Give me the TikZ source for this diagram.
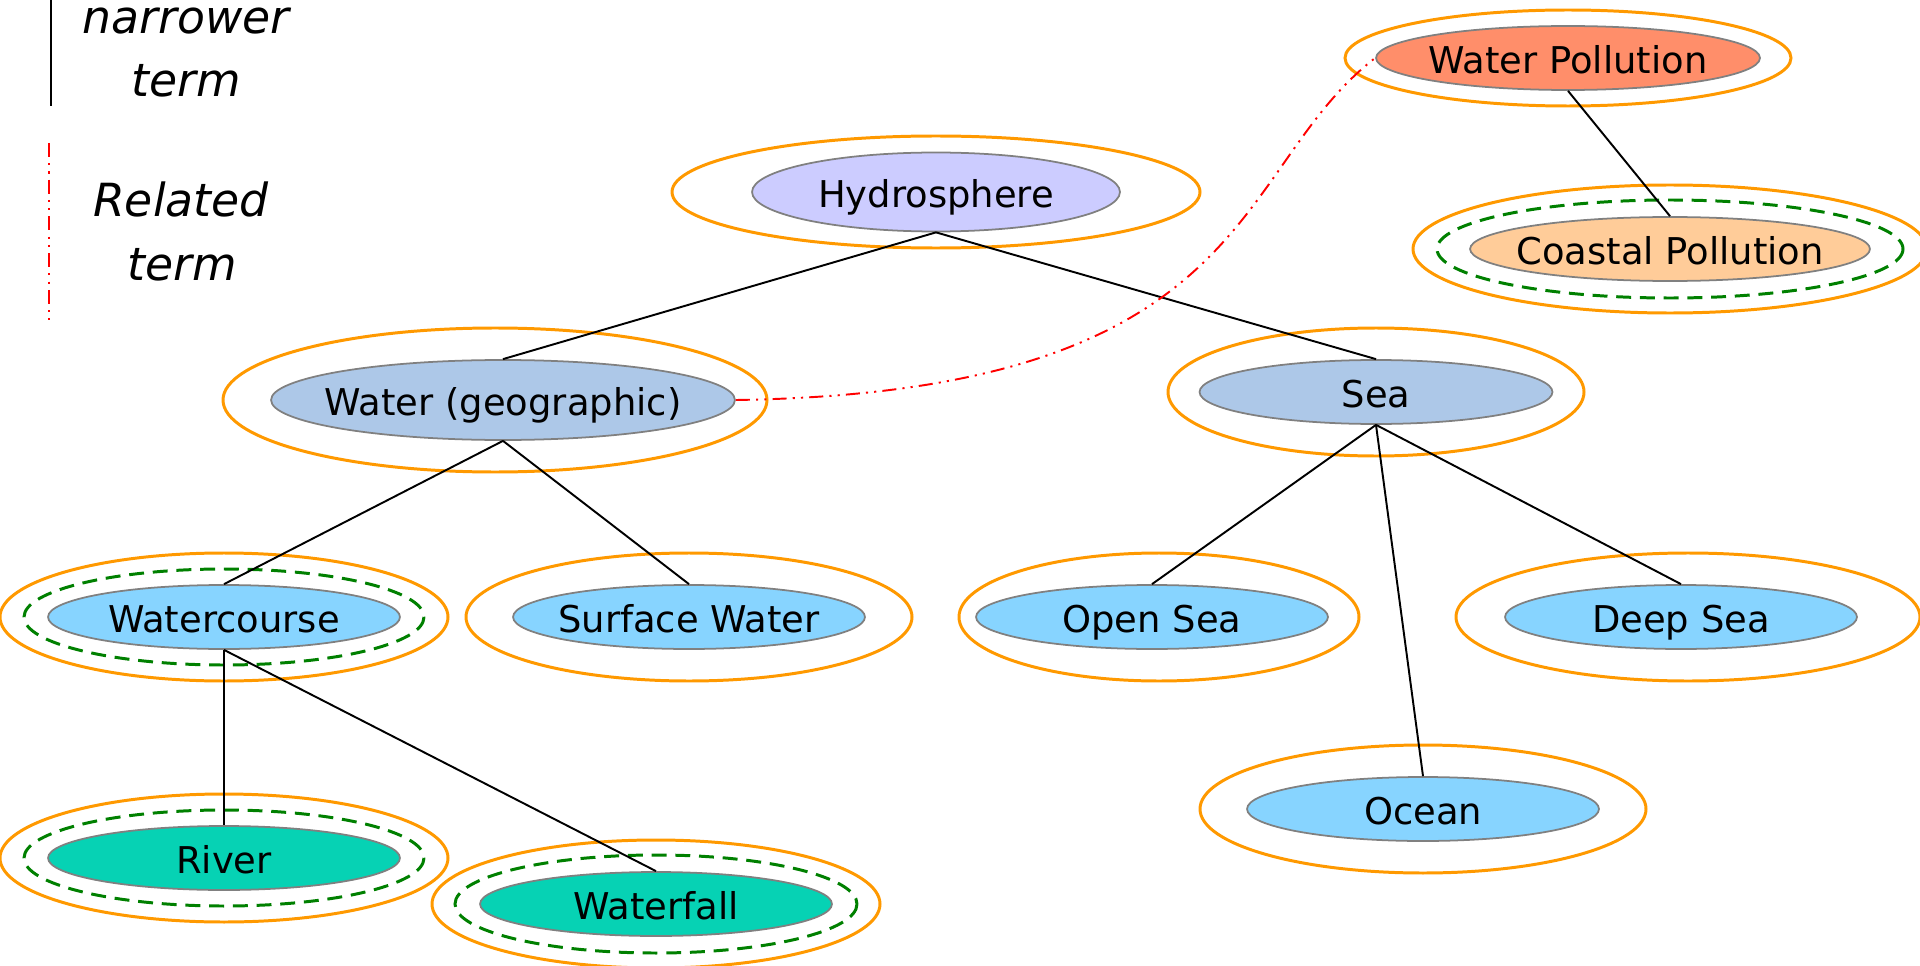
\documentclass[tikz,border=0pt]{standalone}
\usepackage{fontspec}
\setmainfont{DejaVu Sans}
\usetikzlibrary{shapes.geometric}
\definecolor{hydrofill}{RGB}{204,204,255}
\definecolor{pollfill}{RGB}{255,142,106}
\definecolor{coastfill}{RGB}{255,204,153}
\definecolor{broadfill}{RGB}{173,200,232}
\definecolor{narrowfill}{RGB}{135,212,255}
\definecolor{leaffill}{RGB}{6,210,180}
\definecolor{termgray}{RGB}{128,128,128}
\definecolor{ringorange}{RGB}{255,153,0}
\definecolor{ringgreen}{RGB}{0,128,0}
\newcommand{\termtext}[1]{\makebox[0pt]{#1}}

\begin{document}
\begin{tikzpicture}[x=0.02cm, y=-0.02cm, every node/.style={font=\fontsize{21}{25}\selectfont}, term/.style={ellipse, draw=termgray, line width=1pt, inner sep=0pt, text height=21pt, text depth=3.4pt, minimum width=7.04cm, minimum height=1.28cm}, ring/.style={draw=ringorange, line width=1.7pt}, dashring/.style={draw=ringgreen, line width=1.7pt, dash pattern=on 8.5pt off 5pt}, narrower/.style={line width=1.1pt}, related/.style={draw=red, line width=1.1pt, dash pattern=on 8pt off 3.5pt on 1.2pt off 3.5pt on 1.2pt off 3.5pt}, legend/.style={font=\fontsize{26}{30}\selectfont\itshape}]
\useasboundingbox (0,0) rectangle (1920,966);
% terms
\node[term, fill=hydrofill, minimum width=7.36cm, minimum height=1.58cm] (hydro) at (936,192) {\termtext{Hydrosphere}};
\node[term, fill=pollfill, minimum width=7.68cm] (wpoll) at (1568,58) {\termtext{Water Pollution}};
\node[term, fill=coastfill, minimum width=8cm] (cpoll) at (1670,249) {\termtext{Coastal Pollution}};
\node[term, fill=broadfill, minimum width=9.28cm, minimum height=1.6cm] (wgeo) at (503,400) {\termtext{Water (geographic)}};
\node[term, fill=broadfill, minimum width=7.06cm] (sea) at (1376,392) {\termtext{Sea}};
\node[term, fill=narrowfill] (wcourse) at (224,617) {\termtext{Watercourse}};
\node[term, fill=narrowfill] (swater) at (689,617) {\termtext{Surface Water}};
\node[term, fill=narrowfill] (osea) at (1152,617) {\termtext{Open Sea}};
\node[term, fill=narrowfill] (dsea) at (1681,617) {\termtext{Deep Sea}};
\node[term, fill=narrowfill] (ocean) at (1423,809) {\termtext{Ocean}};
\node[term, fill=leaffill] (river) at (224,858) {\termtext{River}};
\node[term, fill=leaffill] (wfall) at (656,904) {\termtext{Waterfall}};
% rings
\draw[ring] (hydro) ellipse [x radius=264, y radius=56];
\draw[ring] (wpoll) ellipse [x radius=223, y radius=48];
\draw[ring] (cpoll) ellipse [x radius=257, y radius=64];
\draw[dashring] (cpoll) ellipse [x radius=233, y radius=49];
\draw[ring] ([xshift=-0.16cm]wgeo.center) ellipse [x radius=272, y radius=72];
\draw[ring] (sea) ellipse [x radius=208, y radius=64];
\draw[ring] (wcourse) ellipse [x radius=224, y radius=64];
\draw[dashring] (wcourse) ellipse [x radius=200, y radius=48];
\draw[ring] (swater) ellipse [x radius=223, y radius=64];
\draw[ring] ([xshift=0.14cm]osea.center) ellipse [x radius=200, y radius=64];
\draw[ring] ([xshift=0.14cm]dsea.center) ellipse [x radius=232, y radius=64];
\draw[ring] (ocean) ellipse [x radius=223, y radius=64];
\draw[ring] (river) ellipse [x radius=224, y radius=64];
\draw[dashring] (river) ellipse [x radius=200, y radius=48];
\draw[ring] (wfall) ellipse [x radius=224, y radius=64];
\draw[dashring] (wfall) ellipse [x radius=201, y radius=49];
% links
\draw[narrower] (hydro.south) -- (wgeo.north);
\draw[narrower] (hydro.south) -- (sea.north);
\draw[narrower] (wgeo.south) -- (wcourse.north);
\draw[narrower] (wgeo.south) -- (swater.north);
\draw[narrower] (sea.south) -- (osea.north);
\draw[narrower] (sea.south) -- (ocean.north);
\draw[narrower] (sea.south) -- (dsea.north);
\draw[narrower] (wcourse.south) -- (river.north);
\draw[narrower] (wcourse.south) -- (wfall.north);
\draw[narrower] (wpoll.south) -- (cpoll.north);
\draw[related] (wgeo.east) .. controls (1260,392) and (1230,170) .. (wpoll.west);
% legend
\coordinate (ntop) at (51,0);
\coordinate (nbot) at (51,106);
\draw[narrower] (ntop) -- (nbot);
\node[legend, anchor=base] (nlbl1) at (186,34) {narrower};
\node[legend, anchor=base] (nlbl2) at (186,97) {term};
\coordinate (rtop) at (49,143);
\coordinate (rbot) at (49,320);
\draw[related] (rtop) -- (rbot);
\node[legend, anchor=base] (rlbl1) at (181,217) {Related};
\node[legend, anchor=base] (rlbl2) at (182,280) {term};
\end{tikzpicture}
\end{document}
